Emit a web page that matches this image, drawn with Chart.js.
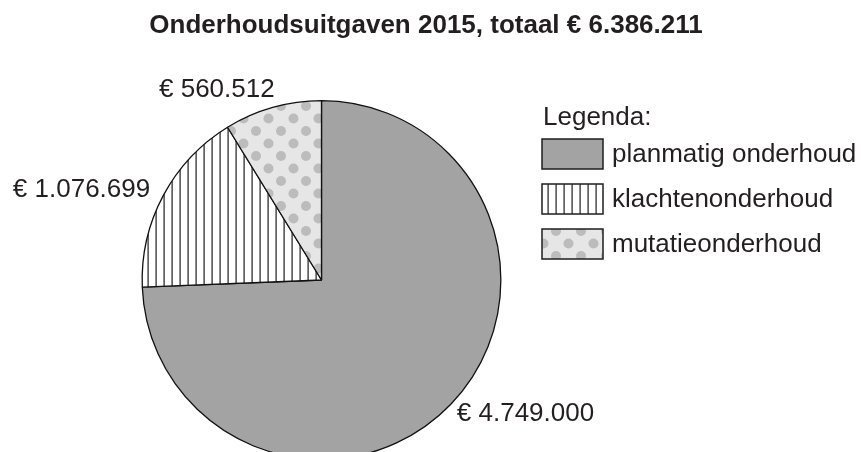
<!DOCTYPE html>
<html>
<head>
<meta charset="utf-8">
<script src="https://cdn.jsdelivr.net/npm/chart.js@4"></script>
<style>
  html, body { margin: 0; padding: 0; background: #fff; overflow: hidden; }
  #wrap { width: 861px; height: 452px; overflow: hidden; }
</style>
</head>
<body>
<div id="wrap"><canvas id="pie" width="861" height="470"></canvas></div>
<script>
const categories = ["planmatig onderhoud", "klachtenonderhoud", "mutatieonderhoud"];
const amounts = [4749000, 1076699, 560512];
const titleText = "Onderhoudsuitgaven 2015, totaal";
const legendTitle = "Legenda:";

const font = "'Liberation Sans', Arial, Helvetica, sans-serif";
const ink = "#231f20";

// euro amount with dots as thousands separator
function euro(v) {
    return "€ " + String(v).replace(/\B(?=(\d{3})+(?!\d))/g, ".");
}

function makeTile(w, h, draw) {
    const c = document.createElement("canvas");
    c.width = w;
    c.height = h;
    draw(c.getContext("2d"));
    return document.createElement("canvas").getContext("2d").createPattern(c, "repeat");
}

const grey = "#a3a3a3";
const stripes = makeTile(8, 8, (g) => {
    g.fillStyle = "#fff";
    g.fillRect(0, 0, 8, 8);
    g.fillStyle = "#1e1e1e";
    g.fillRect(3.5, 0, 1.2, 8);
});
const dots = makeTile(25, 25, (g) => {
    g.fillStyle = "#e6e6e6";
    g.fillRect(0, 0, 25, 25);
    g.fillStyle = "#bcbcbc";
    for (const [x, y] of [[6, 6], [18.5, 18.5]]) {
        g.beginPath();
        g.arc(x, y, 5, 0, Math.PI * 2);
        g.fill();
    }
});
const fills = [grey, stripes, dots];

const extras = {
    id: "extras",
    afterDraw(chart, args, opts) {
        const ctx = chart.ctx;
        const arcs = chart.getDatasetMeta(0).data;
        const total = amounts.reduce((a, b) => a + b, 0);
        ctx.save();
        ctx.fillStyle = ink;
        ctx.textBaseline = "alphabetic";

        // title
        ctx.font = "bold 26px " + font;
        ctx.textAlign = "center";
        ctx.fillText(titleText + " " + euro(total), 426, 33);

        // value labels next to the slices
        ctx.font = "26px " + font;
        arcs.forEach((arc, i) => {
            const p = arc.getProps(["x", "y", "startAngle", "endAngle", "outerRadius"], true);
            const mid = (p.startAngle + p.endAngle) / 2;
            const o = opts.offsets[i];
            ctx.textAlign = o.align;
            ctx.fillText(euro(amounts[i]),
                p.x + Math.cos(mid) * p.outerRadius + o.dx,
                p.y + Math.sin(mid) * p.outerRadius + o.dy);
        });

        // legend
        ctx.textAlign = "left";
        ctx.fillText(legendTitle, 543, 125);
        categories.forEach((name, i) => {
            const top = 139 + i * 45;
            ctx.fillStyle = fills[i];
            ctx.fillRect(542, top, 61, 30);
            ctx.strokeStyle = "#1e1e1e";
            ctx.lineWidth = 1.5;
            ctx.strokeRect(542, top, 61, 30);
            ctx.fillStyle = ink;
            ctx.fillText(name, 612, top + 23);
        });
        ctx.restore();
    }
};

new Chart(document.getElementById("pie"), {
    type: "pie",
    data: {
        labels: categories,
        datasets: [{
            data: amounts,
            backgroundColor: fills,
            borderColor: "#111",
            borderWidth: 1.3,
            borderAlign: "center"
        }]
    },
    options: {
        responsive: false,
        animation: false,
        layout: { padding: { left: 141, right: 359, top: 100, bottom: 10 } },
        plugins: {
            legend: { display: false },
            title: { display: false },
            tooltip: { enabled: false },
            extras: {
                offsets: [
                    { dx: 6, dy: 17, align: "left" },
                    { dx: -13, dy: 1, align: "right" },
                    { dx: 2, dy: -10, align: "right" }
                ]
            }
        }
    },
    plugins: [extras]
});
</script>
</body>
</html>
